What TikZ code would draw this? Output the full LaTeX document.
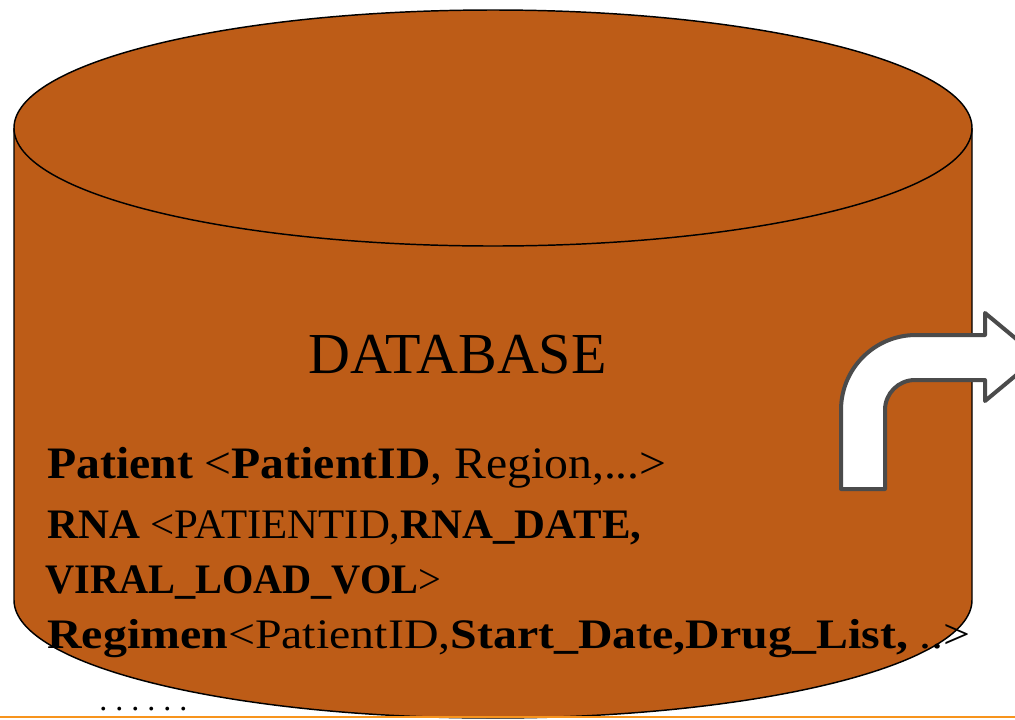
\documentclass[tikz,border=0pt]{standalone}
\usepackage{graphicx}
\usepackage{fontspec}
\setmainfont{Liberation Serif}
\definecolor{dbbrown}{RGB}{189,92,23}
\definecolor{arrowgray}{RGB}{75,75,75}
\definecolor{baseorange}{RGB}{247,148,29}
\begin{document}
\begin{tikzpicture}[x=0.75pt,y=-0.75pt,
	dbline/.style={line width=1.1pt, fill=dbbrown},
	turnarrow/.style={fill=white, draw=arrowgray, line width=3pt, line join=round},
	field/.style={anchor=base west, inner sep=0pt, font=\fontsize{31.5}{36}\selectfont}]
	\useasboundingbox (0,0) rectangle (1015,719);
	\clip (0,0) rectangle (1015,719);
	% cylinder
	\draw[dbline] (14,128) -- (14,600) arc[start angle=180, end angle=360, x radius=359.25pt, y radius=88.5pt] -- (972,128);
	\draw[dbline] (493,128) ellipse [x radius=359.25pt, y radius=88.5pt];
	% texts
	\node[anchor=base, inner sep=0pt, font=\fontsize{43.5}{50}\selectfont] (title) at (457.5,373) {DATABASE};
	\node[field, font=\fontsize{33.75}{40}\selectfont] (patient) at (47,478) {\scalebox{1.06}[1]{\textbf{Patient} <\textbf{PatientID}, Region,...>}};
	\node[field] (rna) at (47,538) {\scalebox{1.02}[1]{\textbf{RNA} <PATIENTID,\textbf{RNA\_DATE,}}};
	\node[field] (viral) at (45,593) {\scalebox{0.96}[1]{\textbf{VIRAL\_LOAD\_VOL}>}};
	\node[field] (regimen) at (47,648) {\scalebox{1.14}[1]{\textbf{Regimen}<PatientID,\textbf{Start\_Date,Drug\_List,} ..>}};
	\node[anchor=base west, inner sep=0pt, font=\fontsize{24}{28}\selectfont\frenchspacing] (dots) at (99,710) {. . . . . .};
	% bent arrow
	\draw[turnarrow] (841,489) -- (841,410) .. controls (841,368.6) and (874.6,335) .. (916,335) -- (985,335) -- (985,313) -- (1038,357) -- (985,401) -- (985,380) -- (915,380) .. controls (898.4,380) and (885,393.4) .. (885,410) -- (885,489) -- cycle;
	% bottom rule
	\draw[baseorange, line width=2.2pt] (0,717) -- (1015,717);
\end{tikzpicture}
\end{document}
